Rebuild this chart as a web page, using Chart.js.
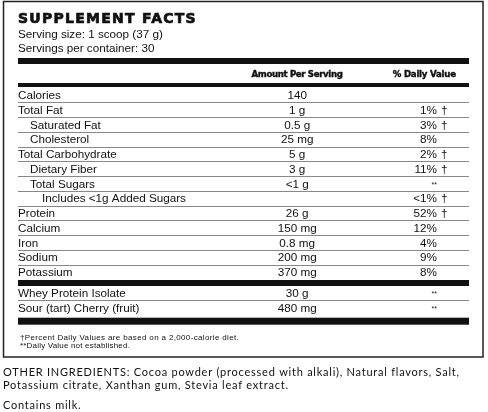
<!DOCTYPE html>
<html>
<head>
    <title>Supplement Facts</title>
    <script src="https://cdn.jsdelivr.net/npm/chart.js"></script>
    <style>
        body { margin: 0; background: #fff; }
    </style>
</head>
<body>
    <canvas id="facts_chart" width="488" height="412"></canvas>
    <script>
        // label rows, amounts and daily values
        const nutrients = ["Calories", "Total Fat", "Saturated Fat", "Cholesterol", "Total Carbohydrate",
            "Dietary Fiber", "Total Sugars", "Includes <1g Added Sugars", "Protein", "Calcium",
            "Iron", "Sodium", "Potassium"];
        const nutrient_indent = [0, 0, 1, 1, 0, 1, 1, 2, 0, 0, 0, 0, 0];
        const nutrient_amounts = ["140", "1 g", "0.5 g", "25 mg", "5 g", "3 g", "<1 g", "",
            "26 g", "150 mg", "0.8 mg", "200 mg", "370 mg"];
        const nutrient_dv = ["", "1%", "3%", "8%", "2%", "11%", "**", "<1%", "52%", "12%", "4%", "9%", "8%"];
        const nutrient_dagger = [false, true, true, false, true, true, false, true, true, false, false, false, false];

        const extras = ["Whey Protein Isolate", "Sour (tart) Cherry (fruit)"];
        const extra_amounts = ["30 g", "480 mg"];
        const extra_dv = ["**", "**"];

        const title = "SUPPLEMENT FACTS";
        const serving_lines = ["Serving size: 1 scoop (37 g)", "Servings per container: 30"];
        const column_heads = ["Amount Per Serving", "% Daily Value"];
        const footnotes = ["\u2020Percent Daily Values are based on a 2,000-calorie diet.", "**Daily Value not established."];
        const ingredients = ["OTHER INGREDIENTS: Cocoa powder (processed with alkali), Natural flavors, Salt,",
            "Potassium citrate, Xanthan gum, Stevia leaf extract.", "Contains milk."];

        const rows = nutrients.concat(extras);
        const amounts = nutrient_amounts.concat(extra_amounts);
        const dvs = nutrient_dv.concat(extra_dv);
        const daggers = nutrient_dagger.concat(extras.map(() => false));
        const indents = nutrient_indent.concat(extras.map(() => 0));

        const GROUP_GAP = 1.42; // second block sits a bit lower (thick rule in between)
        function rowPos(i) {
            return i < nutrients.length ? i : i + GROUP_GAP - 1;
        }

        const TABLE_FONT = '"Liberation Sans", Arial, sans-serif';
        const INK = '#111';

        // fill text stretched to a given width through letter spacing
        function fitText(ctx, text, x, y, width, align, heavy) {
            ctx.letterSpacing = '0px';
            const w0 = ctx.measureText(text).width;
            const sp = (width - w0) / text.length;
            ctx.letterSpacing = sp.toFixed(2) + 'px';
            const w = ctx.measureText(text).width - sp;
            let x0 = x;
            if (align === 'center') x0 = x - w / 2;
            if (align === 'right') x0 = x - w;
            ctx.textAlign = 'left';
            ctx.fillText(text, x0, y);
            if (heavy) {
                ctx.lineWidth = heavy;
                ctx.strokeStyle = INK;
                ctx.strokeText(text, x0, y);
            }
            ctx.letterSpacing = '0px';
        }

        const factsPlugin = {
            id: 'facts',
            beforeDraw(chart) {
                const ctx = chart.ctx;
                ctx.save();
                ctx.fillStyle = '#fff';
                ctx.fillRect(0, 0, chart.width, chart.height);
                ctx.restore();
            },
            afterDatasetsDraw(chart) {
                const ctx = chart.ctx;
                const xs = chart.scales.x;
                const ys = chart.scales.y;
                const pts = chart.getDatasetMeta(0).data;
                const left = xs.getPixelForValue(0);
                const right = xs.getPixelForValue(100);
                const amountX = xs.getPixelForValue(61.9);
                const dvX = xs.getPixelForValue(92.9);
                const dvHeadX = xs.getPixelForValue(90.1);
                const top = pts[0].y;

                ctx.save();
                ctx.fillStyle = INK;
                ctx.textBaseline = 'alphabetic';

                // outer box
                ctx.strokeStyle = '#222';
                ctx.lineWidth = 1.5;
                ctx.strokeRect(3.5, 1.5, 479.5, 355.5);

                // title + serving info
                ctx.font = 'bold 14px "DejaVu Sans", sans-serif';
                fitText(ctx, title, left, 23, 179, 'left', 0.7);
                ctx.font = '11.7px ' + TABLE_FONT;
                ctx.textAlign = 'left';
                ctx.fillText(serving_lines[0], left, 37.5);
                ctx.fillText(serving_lines[1], left, 52);

                // heavy rules and column heads
                ctx.fillRect(left, top - 37, right - left, 6);
                ctx.font = 'bold 8.6px "DejaVu Sans", sans-serif';
                fitText(ctx, column_heads[0], amountX, top - 18, 91, 'center', 0.4);
                fitText(ctx, column_heads[1], dvHeadX, top - 18, 63, 'center', 0.4);
                ctx.fillRect(left, top - 12, right - left, 4);

                // thin row rules
                ctx.strokeStyle = '#888';
                ctx.lineWidth = 1;
                for (let i = 0; i < rows.length - 1; i++) {
                    if (i === nutrients.length - 1) continue;
                    const y = Math.round(ys.getPixelForValue((rowPos(i) + rowPos(i + 1)) / 2)) + 0.5;
                    ctx.beginPath();
                    ctx.moveTo(left, y);
                    ctx.lineTo(right, y);
                    ctx.stroke();
                }
                // heavy rules between and after blocks
                const potY = pts[nutrients.length - 1].y;
                ctx.fillRect(left, potY + 8, right - left, 6);
                const lastY = pts[rows.length - 1].y;
                ctx.fillRect(left, lastY + 10, right - left, 7);

                // rows
                pts.forEach((pt, i) => {
                    const y = pt.y + 4.2;
                    ctx.font = '11.7px ' + TABLE_FONT;
                    ctx.textAlign = 'left';
                    ctx.fillText(rows[i], left + indents[i] * 12, y);
                    ctx.textAlign = 'center';
                    if (amounts[i]) ctx.fillText(amounts[i], amountX, y);
                    ctx.textAlign = 'right';
                    if (dvs[i] === '**') {
                        ctx.font = '7px ' + TABLE_FONT;
                        ctx.fillText('**', dvX, pt.y + 3.5);
                    } else if (dvs[i]) {
                        ctx.fillText(dvs[i], dvX, y);
                    }
                    if (daggers[i]) {
                        ctx.font = '11.7px ' + TABLE_FONT;
                        ctx.textAlign = 'left';
                        ctx.fillText('\u2020', dvX + 4, y);
                    }
                });

                // footnotes inside the box
                ctx.font = '8px ' + TABLE_FONT;
                fitText(ctx, footnotes[0], 20, 340, 219, 'left');
                fitText(ctx, footnotes[1], 20, 348, 110, 'left');

                // ingredients under the box
                ctx.font = '11px Lato, sans-serif';
                ctx.letterSpacing = '0px';
                const w0 = ctx.measureText(ingredients[0]).width;
                const sp = (457 - w0) / ingredients[0].length;
                ctx.letterSpacing = sp.toFixed(2) + 'px';
                ctx.textAlign = 'left';
                ctx.fillText(ingredients[0], 3, 376);
                ctx.fillText(ingredients[1], 3, 388.5);
                ctx.fillText(ingredients[2], 3, 409);
                ctx.letterSpacing = '0px';
                ctx.restore();
            }
        };

        const ROW_PX = 14.75;
        const yMin = -0.5;
        const yMax = rowPos(rows.length - 1) + 0.5;
        const areaTop = 95 - 0.5 * ROW_PX;
        const areaBottom = areaTop + (yMax - yMin) * ROW_PX;

        const ctx = document.getElementById('facts_chart');
        const facts_chart = new Chart(ctx, {
            type: 'scatter',
            data: {
                labels: rows,
                datasets: [{
                    label: 'rows',
                    data: rows.map((r, i) => ({ x: 0, y: rowPos(i) })),
                    pointRadius: 0,
                    pointHoverRadius: 0
                }]
            },
            options: {
                responsive: false,
                animation: false,
                devicePixelRatio: 1,
                layout: { padding: { left: 18, right: 19, top: areaTop, bottom: 412 - areaBottom } },
                plugins: { legend: { display: false }, tooltip: { enabled: false } },
                scales: {
                    x: { type: 'linear', min: 0, max: 100, display: false },
                    y: { type: 'linear', min: yMin, max: yMax, reverse: true, display: false }
                }
            },
            plugins: [factsPlugin]
        });
    </script>
</body>
</html>
